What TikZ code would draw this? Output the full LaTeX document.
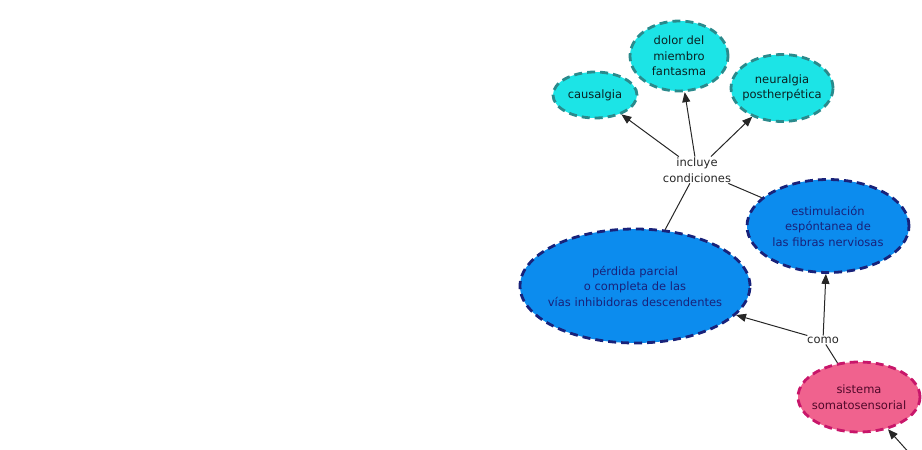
\documentclass[tikz,border=0pt]{standalone}
\usepackage{fontspec}
\setmainfont{DejaVu Sans}
\usepackage{tikz}
\usetikzlibrary{arrows.meta, shapes.geometric}
\definecolor{cyanfill}{HTML}{1CE4E6}
\definecolor{cyanline}{HTML}{2A8A8C}
\definecolor{bluefill}{HTML}{0C8CEE}
\definecolor{blueline}{HTML}{18227A}
\definecolor{pinkfill}{HTML}{F0628E}
\definecolor{pinkline}{HTML}{C8166A}
\tikzset{
  concept/.style={ellipse, draw, line width=2.8pt, dash pattern=on 8pt off 5pt,
    inner xsep=-10pt, inner ysep=0pt, align=center,
    font=\fontsize{11.5}{15.5}\selectfont},
  conceptcyan/.style={concept, fill=cyanfill, draw=cyanline, text=black!75!cyanline},
  conceptblue/.style={concept, fill=bluefill, draw=blueline, text=blueline},
  conceptpink/.style={concept, fill=pinkfill, draw=pinkline, text=black!60!pinkline},
  linkword/.style={align=center, inner sep=1pt, text=black!85,
    font=\fontsize{11.5}{15.5}\selectfont},
  link/.style={draw=black!85, line width=1pt},
  linkarrow/.style={link, -{Triangle[length=10pt,width=8pt]}}
}

\begin{document}
\begin{tikzpicture}[x=1pt, y=-1pt]
 \useasboundingbox (0,0) rectangle (922,450);
 \node[conceptcyan, minimum width=84pt, minimum height=46pt] (causalgia) at (595,95) {causalgia};
 \node[conceptcyan, minimum width=98pt, minimum height=70pt] (dolor) at (679,56) {dolor del\\miembro\\fantasma};
 \node[conceptcyan, minimum width=102pt, minimum height=67pt] (neuralgia) at (782,88) {neuralgia\\postherpética};
 \node[linkword] (incluye) at (697,170) {incluye\\condiciones};
 \node[conceptblue, minimum width=162pt, minimum height=93pt] (estimulacion) at (828,226) {estimulación\\espóntanea de\\las fibras nerviosas};
 \node[conceptblue, minimum width=230pt, minimum height=114pt] (perdida) at (635,286) {pérdida parcial\\o completa de las\\vías inhibidoras descendentes};
 \node[linkword] (como) at (823,340) {como};
 \node[conceptpink, minimum width=122pt, minimum height=70pt] (sistema) at (859,397) {sistema\\somatosensorial};
 \coordinate (abajo) at (912,456);

 \draw[linkarrow] (incluye) -- (causalgia);
 \draw[linkarrow] (incluye) -- (dolor);
 \draw[linkarrow] (incluye) -- (neuralgia);
 \draw[link] (perdida) -- (incluye);
 \draw[link] (estimulacion) -- (incluye);
 \draw[linkarrow] (como) -- (perdida);
 \draw[linkarrow] (como) -- (estimulacion);
 \draw[link] (sistema) -- (como);
 \draw[linkarrow] (abajo) -- (sistema);
\end{tikzpicture}
\end{document}
